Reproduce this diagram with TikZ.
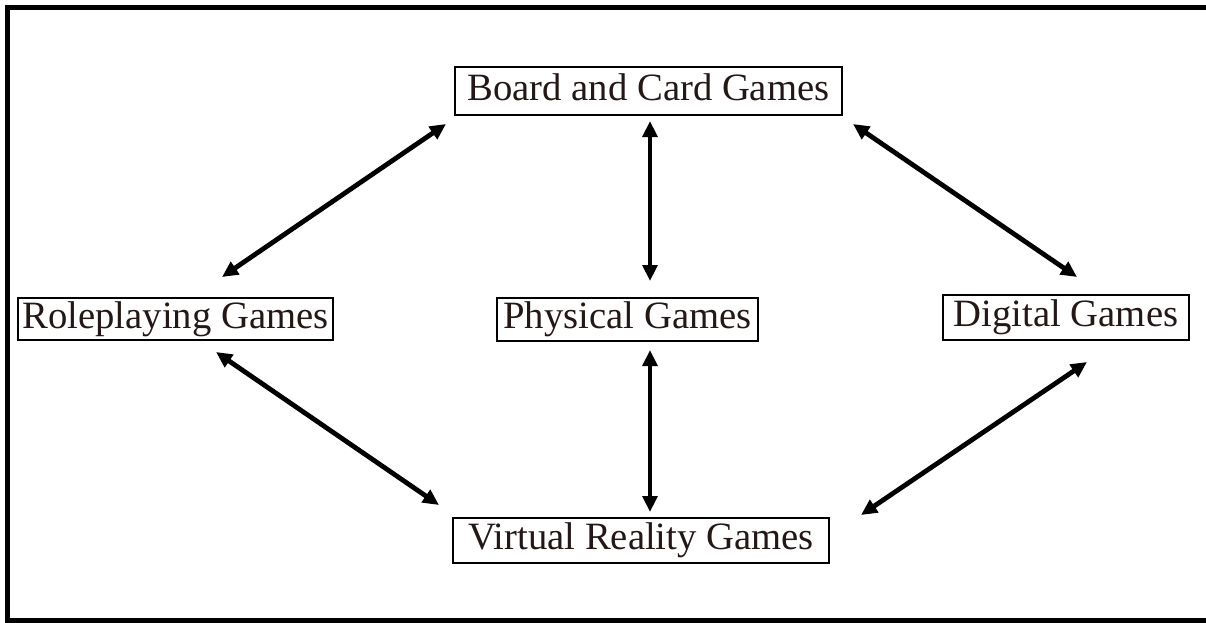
\documentclass[tikz,border=0pt]{standalone}
\usepackage{fontspec}
\setmainfont{Liberation Serif}
\usetikzlibrary{arrows.meta,calc}
\definecolor{inkdark}{RGB}{35,24,21}
\begin{document}
\begin{tikzpicture}[x=0.75pt,y=-0.75pt,
  gamebox/.style={draw=black,line width=1.9pt,inner sep=0pt,
    font=\fontsize{29}{34}\selectfont,text=inkdark,
    text height=20.3pt,text depth=6.4pt},
  link/.style={line width=3.6pt,{Triangle[length=12pt,width=11pt]}-{Triangle[length=12pt,width=11pt]}}]
\useasboundingbox (0,0) rectangle (1206,622);
\fill[white] (0,0) rectangle (1206,622);
\draw[line width=3.75pt] (1206,7.5) -- (7.5,7.5) -- (7.5,620) -- (1206,620);
\node[gamebox,minimum width=290.25pt,minimum height=36pt] (board) at (648.5,91) {Board and Card Games};
\node[gamebox,minimum width=236.25pt,minimum height=31.5pt] (rpg) at (175.5,319) {Roleplaying Games};
\node[gamebox,minimum width=195.75pt,minimum height=32.25pt] (phys) at (627.5,319.5) {Physical Games};
\node[gamebox,minimum width=184.5pt,minimum height=33.75pt] (dig) at (1066,317.5) {Digital Games};
\node[gamebox,minimum width=282pt,minimum height=33.75pt] (vr) at (641,540.5) {Virtual Reality Games};
\draw[link] ($(rpg)+(46.5,-42)$) -- ($(board)+(-202.5,33)$);
\draw[link] ($(board)+(204.5,33)$) -- ($(dig)+(11,-40.5)$);
\draw[link] ($(rpg)+(40.5,33)$) -- ($(vr)+(-202,-35.5)$);
\draw[link] ($(dig)+(21,44.5)$) -- ($(vr)+(220,-25.5)$);
\draw[link] ($(board)+(1.5,30)$) -- ($(phys)+(22.5,-38.5)$);
\draw[link] ($(phys)+(22.5,30.5)$) -- ($(vr)+(9,-28.5)$);
\end{tikzpicture}
\end{document}
